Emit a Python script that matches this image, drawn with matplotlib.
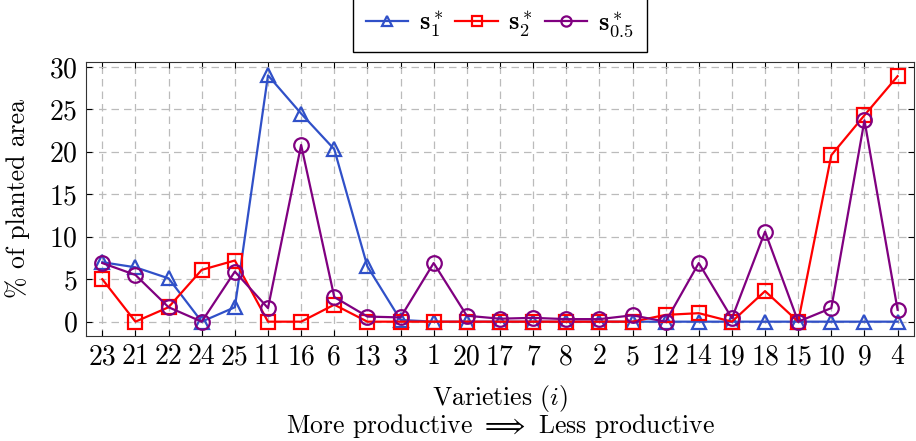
import matplotlib

matplotlib.use("Agg")
import matplotlib.pyplot as plt

varieties = ["23", "21", "22", "24", "25", "11", "16", "6", "13", "3", "1", "20", "17",
             "7", "8", "2", "5", "12", "14", "19", "18", "15", "10", "9", "4"]

s1 = [7.0, 6.4, 5.1, 0.0, 1.7, 29.0, 24.5, 20.3, 6.5, 0.2, 0.0, 0.0, 0.0,
      0.0, 0.0, 0.0, 0.0, 0.0, 0.0, 0.0, 0.0, 0.0, 0.0, 0.0, 0.0]
s2 = [5.0, 0.0, 1.7, 6.1, 7.2, 0.0, 0.0, 2.0, 0.0, 0.0, 0.0, 0.0, 0.0,
      0.0, 0.0, 0.0, 0.0, 0.8, 1.0, 0.0, 3.6, 0.0, 19.6, 24.3, 28.9]
s05 = [6.9, 5.5, 1.7, 0.0, 5.9, 1.6, 20.8, 2.9, 0.6, 0.5, 6.9, 0.7, 0.35,
       0.45, 0.3, 0.3, 0.75, 0.0, 6.9, 0.4, 10.6, 0.0, 1.6, 23.7, 1.4]

y_ticks = [0, 5, 10, 15, 20, 25, 30]


def main() -> None:
    plt.rcParams["font.family"] = ["cmr10", "DejaVu Serif"]
    plt.rcParams["mathtext.fontset"] = "cm"
    plt.rcParams["axes.formatter.use_mathtext"] = True
    plt.rcParams["font.size"] = 18.5

    fig = plt.figure(figsize=(9.16, 4.41), dpi=100)
    ax = fig.add_axes([0.0936, 0.2388, 0.9044, 0.6212])

    x = list(range(len(varieties)))
    ax.plot(x, s1, color="#3050c8", marker="^", markersize=9.5, markerfacecolor="none",
            markeredgewidth=1.6, linewidth=1.6, label=r"$\mathbf{s}_1^*$", zorder=3)
    ax.plot(x, s2, color="#ff0000", marker="s", markersize=10, markerfacecolor="none",
            markeredgewidth=1.6, linewidth=1.6, label=r"$\mathbf{s}_2^*$", zorder=3)
    ax.plot(x, s05, color="#800080", marker="o", markersize=10.5, markerfacecolor="none",
            markeredgewidth=1.6, linewidth=1.6, label=r"$\mathbf{s}_{0.5}^*$", zorder=3)

    ax.set_xlim(-0.5, 24.5)
    ax.set_ylim(-1.65, 30.6)
    ax.set_xticks(x)
    ax.set_xticklabels(varieties)
    ax.set_yticks(y_ticks)
    ax.tick_params(direction="in", top=True, right=True, length=4, width=0.8,
                   labelsize=20, pad=6)
    ax.grid(True, linestyle=(0, (6, 4)), color="#bbbbbb", linewidth=0.9)
    for sp in ax.spines.values():
        sp.set_color("#333333")

    ax.set_ylabel("% of planted area", fontsize=18.5)
    ax.yaxis.set_label_coords(-0.067, 0.5)

    fig.text(0.546, 0.0975, "Varieties $(i)$", fontsize=18.5, ha="center", va="center")
    fig.text(0.546, 0.034, "More productive $\\Longrightarrow$ Less productive",
             fontsize=18.5, ha="center", va="center")

    ax.legend(loc="lower center", bbox_to_anchor=(0.5, 1.035), ncol=3, frameon=True,
              fancybox=False, edgecolor="black", framealpha=1, fontsize=19,
              handlelength=1.6, columnspacing=0.45, handletextpad=0.4,
              borderpad=0.5, borderaxespad=0, markerscale=0.7)

    fig.savefig("out.png", dpi=100)


if __name__ == "__main__":
    main()
